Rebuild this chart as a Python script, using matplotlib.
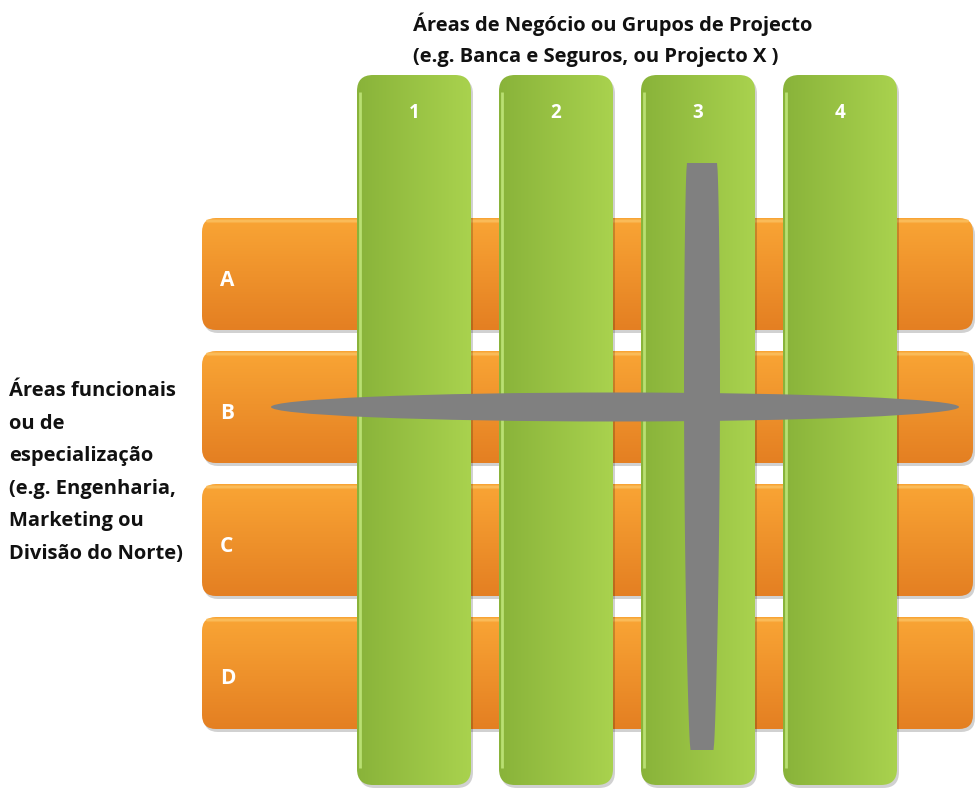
import numpy as np
import matplotlib
matplotlib.use('Agg')
import matplotlib.pyplot as plt
from matplotlib.patches import FancyBboxPatch, Ellipse, Polygon

# labels of the matrix
row_labels = ['A', 'B', 'C', 'D']
col_labels = ['1', '2', '3', '4']
top_title = ['Áreas de Negócio ou Grupos de Projecto',
             '(e.g. Banca e Seguros, ou Projecto X )']
left_title = ['Áreas funcionais', 'ou de', 'especialização',
              '(e.g. Engenharia,', 'Marketing ou', 'Divisão do Norte)']

plt.rcParams['font.family'] = ['Open Sans', 'DejaVu Sans']

W, H = 976, 789
fig = plt.figure(figsize=(9.76, 7.89), dpi=100)
ax = fig.add_axes([0, 0, 1, 1])
ax.set_xlim(0, W)
ax.set_ylim(H, 0)
ax.axis('off')


def grad_box(x0, y0, w, h, c1, c2, vertical, z, r=14):
    # drop shadow
    sh = FancyBboxPatch((x0 + 2, y0 + 3), w, h,
                        boxstyle='round,pad=0,rounding_size=%d' % r,
                        fc='#000000', ec='none', alpha=0.18, zorder=z - 0.5)
    ax.add_patch(sh)
    box = FancyBboxPatch((x0, y0), w, h,
                         boxstyle='round,pad=0,rounding_size=%d' % r,
                         fc='none', ec='none', zorder=z)
    ax.add_patch(box)
    c1 = np.array(matplotlib.colors.to_rgb(c1))
    c2 = np.array(matplotlib.colors.to_rgb(c2))
    t = np.linspace(0, 1, 100)
    g = c1[None, :] * (1 - t[:, None]) + c2[None, :] * t[:, None]
    if vertical:
        img = g[:, None, :]
    else:
        img = g[None, :, :]
    im = ax.imshow(img, extent=(x0, x0 + w, y0 + h, y0), aspect='auto',
                   interpolation='bicubic', zorder=z)
    im.set_clip_path(box)
    return box


# orange rows
row_y = [218 + 133 * i for i in range(len(row_labels))]
for lab, y in zip(row_labels, row_y):
    grad_box(202, y, 771, 112, '#F9A535', '#E47F22', True, 1)
    ax.add_patch(FancyBboxPatch((206, y + 1.5), 763, 3,
                                boxstyle='round,pad=0,rounding_size=1.5',
                                fc='#FBC262', ec='none', alpha=0.8, zorder=1.2))
    ax.text(220, y + 62, lab, color='white', fontsize=15, fontweight='bold',
            va='center', ha='left', zorder=5)

# green columns
col_x = [357 + 142 * i for i in range(len(col_labels))]
for lab, x in zip(col_labels, col_x):
    grad_box(x, 75, 114, 710, '#89B33A', '#A9D24E', False, 2, r=16)
    ax.plot([x + 2.5, x + 2.5], [92, 768], color='#B9DF72', lw=2, zorder=2.2,
            solid_capstyle='butt')
    ax.text(x + 57, 113, lab, color='white', fontsize=13.5, fontweight='bold',
            va='center', ha='center', zorder=5)

# grey cross
ax.add_patch(Ellipse((615, 407), 688, 29, fc='#808080', ec='none', zorder=4))
ys = np.linspace(163, 750, 80)
t = (ys - 163) / (750 - 163)
hw = 15 + 4.5 * np.sin(np.pi * t) ** 0.6 - 3.5 * t
cx = 702
pts = list(zip(cx - hw, ys)) + list(zip((cx + hw)[::-1], ys[::-1]))
ax.add_patch(Polygon(pts, closed=True, fc='#808080', ec='none', zorder=4,
                     joinstyle='round'))

# titles
for i, line in enumerate(top_title):
    ax.text(413, 24 + 33 * i, line, fontsize=14.5, fontweight='bold',
            color='#111111', va='center', ha='left')
for i, line in enumerate(left_title):
    ax.text(9, 391 + 32.5 * i, line, fontsize=14.5, fontweight='bold',
            color='#111111', va='center', ha='left')

fig.savefig('out.png', dpi=100, facecolor='white')
